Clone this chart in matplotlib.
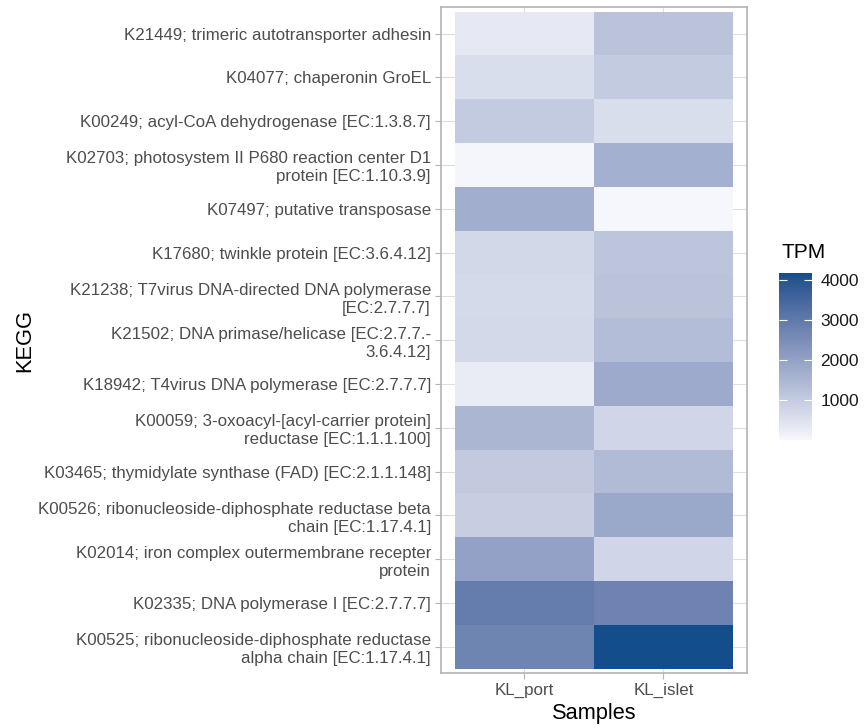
import numpy as np
import matplotlib
matplotlib.use("Agg")
import matplotlib.pyplot as plt
from matplotlib.colors import ListedColormap, Normalize, to_rgb
import matplotlib.cm as cm

plt.rcParams['font.family'] = ['Liberation Sans', 'DejaVu Sans']

kegg_labels = [
    "K21449; trimeric autotransporter adhesin",
    "K04077; chaperonin GroEL",
    "K00249; acyl-CoA dehydrogenase [EC:1.3.8.7]",
    "K02703; photosystem II P680 reaction center D1\nprotein [EC:1.10.3.9]",
    "K07497; putative transposase",
    "K17680; twinkle protein [EC:3.6.4.12]",
    "K21238; T7virus DNA-directed DNA polymerase\n[EC:2.7.7.7]",
    "K21502; DNA primase/helicase [EC:2.7.7.-\n3.6.4.12]",
    "K18942; T4virus DNA polymerase [EC:2.7.7.7]",
    "K00059; 3-oxoacyl-[acyl-carrier protein]\nreductase [EC:1.1.1.100]",
    "K03465; thymidylate synthase (FAD) [EC:2.1.1.148]",
    "K00526; ribonucleoside-diphosphate reductase beta\nchain [EC:1.17.4.1]",
    "K02014; iron complex outermembrane recepter\nprotein",
    "K02335; DNA polymerase I [EC:2.7.7.7]",
    "K00525; ribonucleoside-diphosphate reductase\nalpha chain [EC:1.17.4.1]",
]
samples = ["KL_port", "KL_islet"]
tpm_port = [330, 580, 1030, 40, 1700, 720, 670, 690, 270, 1505, 1040, 940, 2020, 2910, 2730]
tpm_islet = [1210, 1030, 580, 1660, 10, 1160, 1200, 1350, 1780, 780, 1400, 1850, 780, 2745, 4165]
cbar_ticks = [1000, 2000, 3000, 4000]

# --- Lab-interpolated gradient (like ggplot scale_fill_gradient) ---
def srgb_to_lin(c):
    c = np.asarray(c)
    return np.where(c <= 0.04045, c / 12.92, ((c + 0.055) / 1.055) ** 2.4)

def lin_to_srgb(c):
    c = np.clip(c, 0, 1)
    return np.where(c <= 0.0031308, 12.92 * c, 1.055 * c ** (1 / 2.4) - 0.055)

M = np.array([[0.4124, 0.3576, 0.1805],
              [0.2126, 0.7152, 0.0722],
              [0.0193, 0.1192, 0.9505]])
Minv = np.linalg.inv(M)
white = M @ np.ones(3)

def f(t):
    d = 6 / 29
    return np.where(t > d ** 3, np.cbrt(t), t / (3 * d * d) + 4 / 29)

def finv(t):
    d = 6 / 29
    return np.where(t > d, t ** 3, 3 * d * d * (t - 4 / 29))

def rgb_to_lab(rgb):
    xyz = M @ srgb_to_lin(rgb)
    fx, fy, fz = f(xyz / white)
    return np.array([116 * fy - 16, 500 * (fx - fy), 200 * (fy - fz)])

def lab_to_rgb(lab):
    L, a, b = lab
    fy = (L + 16) / 116
    fx = fy + a / 500
    fz = fy - b / 200
    xyz = np.array([finv(fx), finv(fy), finv(fz)]) * white
    return lin_to_srgb(Minv @ xyz)

low = rgb_to_lab(np.array(to_rgb("#f6f7fc")))
high = rgb_to_lab(np.array(to_rgb("#134e8b")))
cols = [np.clip(lab_to_rgb(low + (high - low) * t), 0, 1) for t in np.linspace(0, 1, 256)]
cmap = ListedColormap(cols)

data = np.column_stack([tpm_port, tpm_islet])
n = len(kegg_labels)

fig = plt.figure(figsize=(8.65, 7.28), dpi=100)
ax = fig.add_axes([440.7 / 865, 1 - 673 / 728, (747 - 440.7) / 865, (673 - 7.3) / 728])
norm = Normalize(vmin=data.min(), vmax=data.max())
ax.set_axisbelow(True)
ax.grid(True, color="#dedede", linewidth=0.8)
ax.pcolormesh(np.arange(len(samples) + 1) - 0.5, np.arange(n + 1) - 0.5, data,
              cmap=cmap, norm=norm, shading="flat", edgecolors="none", zorder=2)
ax.set_xlim(-0.6, len(samples) - 0.4)
ax.set_ylim(n - 0.4, -0.6)
ax.set_xticks(range(len(samples)))
ax.set_xticklabels(samples)
ax.set_yticks(range(n))
ax.set_yticklabels(kegg_labels, linespacing=1.25)
ax.tick_params(colors="#b3b3b3", labelcolor="#4d4d4d", labelsize=12.2, length=4, width=0.8, pad=3)
for s in ax.spines.values():
    s.set_color("#b3b3b3")
    s.set_linewidth(1.2)

fig.text(25 / 865, 1 - 340 / 728, "KEGG", rotation=90, ha="center", va="center", fontsize=15.7)
fig.text(594 / 865, 1 - 714 / 728, "Samples", ha="center", va="center", fontsize=15.7)

cax = fig.add_axes([779 / 865, 1 - 440 / 728, 33 / 865, 167 / 728])
cb = fig.colorbar(cm.ScalarMappable(norm=norm, cmap=cmap), cax=cax)
cb.outline.set_visible(False)
cb.set_ticks(cbar_ticks)
cax.tick_params(direction="in", color="white", length=6, width=0.8, left=True, right=True,
                labelsize=12.5, labelcolor="#1a1a1a", pad=6)
fig.text(781 / 865, 1 - 253 / 728, "TPM", ha="left", va="center", fontsize=15)

fig.savefig("out.png", dpi=100)
